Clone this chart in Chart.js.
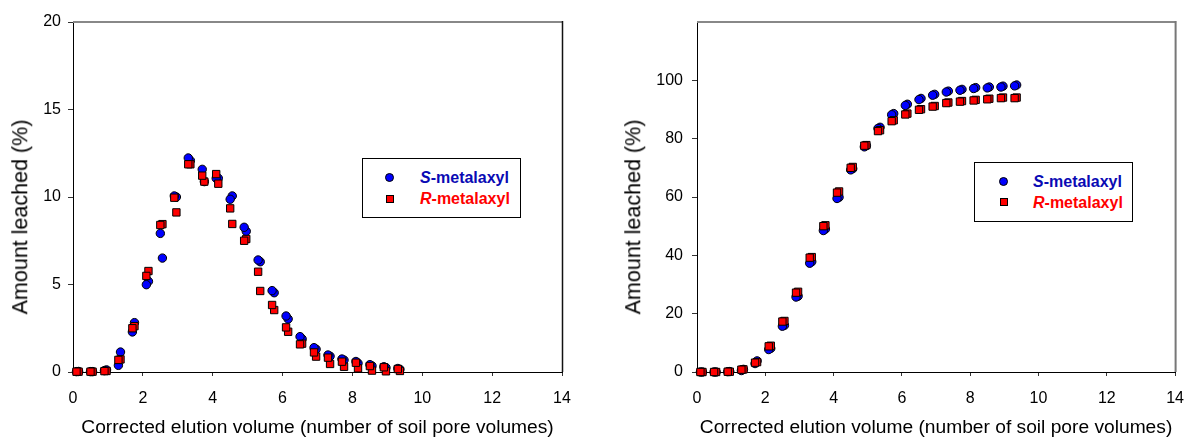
<!DOCTYPE html>
<html>
<head>
<meta charset="utf-8">
<script src="https://cdn.jsdelivr.net/npm/chart.js@4.4.1/dist/chart.umd.min.js"></script>
<style>
  html, body { margin:0; padding:0; background:#fff; }
  body { width:1197px; height:440px; overflow:hidden; position:relative; font-family:"Liberation Sans", Arial, sans-serif; }
  .wrap { position:absolute; top:0; height:440px; }
  .legend { position:absolute; border:1px solid #000; background:#fff; box-sizing:border-box; width:159px; height:60px; }
  .mk { position:absolute; box-sizing:border-box; border:1px solid #000; }
  .circle { width:9px; height:9px; border-radius:50%; background:#0000ff; }
  .square { width:8px; height:8px; background:#ff0000; }
  .txt { position:absolute; font-weight:bold; font-size:16px; line-height:20px; white-space:nowrap; }
  .s { color:#0a0ab4; }
  .r { color:#ff0000; }
  .ytitle { position:absolute; transform:translate(-50%,-50%) rotate(-90deg); font-size:21.5px; line-height:1; white-space:nowrap; color:#000; }
</style>
</head>
<body>
<div class="wrap" style="left:0;width:590px;"><canvas id="c1"></canvas></div>
<div class="wrap" style="left:610px;width:587px;"><canvas id="c2"></canvas></div>

<div class="ytitle" id="yt1" style="left:21px;top:217px;"></div>
<div class="ytitle" id="yt2" style="left:634px;top:217px;"></div>

<div class="legend" style="left:362px;top:158px;">
  <div class="mk circle" style="left:22px;top:14px;"></div>
  <div class="mk square" style="left:23px;top:36px;"></div>
  <div class="txt s" style="left:57px;top:9px;"><i>S</i>-metalaxyl</div>
  <div class="txt r" style="left:57px;top:30px;"><i>R</i>-metalaxyl</div>
</div>
<div class="legend" style="left:974px;top:162px;">
  <div class="mk circle" style="left:24px;top:14px;"></div>
  <div class="mk square" style="left:25px;top:35px;"></div>
  <div class="txt s" style="left:58px;top:9px;"><i>S</i>-metalaxyl</div>
  <div class="txt r" style="left:58px;top:30px;"><i>R</i>-metalaxyl</div>
</div>

<script>
// ---------- data ----------
const xRep1 = [0.1,0.5,0.9,1.3,1.7,2.1,2.5,2.9,3.3,3.7,4.1,4.5,4.9,5.3,5.7,6.1,6.5,6.9,7.3,7.7,8.1,8.5,8.9,9.3];
const xRep2 = [0.16,0.56,0.96,1.36,1.76,2.16,2.56,2.96,3.36,3.76,4.16,4.56,4.96,5.36,5.76,6.16,6.56,6.96,7.36,7.76,8.16,8.56,8.96,9.36];

// Left panel: amount leached per fraction (%)
const sFrac1 = [0.02,0.02,0.08,0.38,2.29,4.99,7.92,10.06,12.23,11.58,11.07,9.87,8.27,6.40,4.65,3.20,2.02,1.39,0.97,0.74,0.60,0.42,0.30,0.20];
const sFrac2 = [0.03,0.02,0.12,1.14,2.82,5.18,6.51,10.00,12.08,10.88,11.07,10.06,8.04,6.30,4.53,3.03,1.89,1.30,0.90,0.68,0.50,0.35,0.25,0.15];
const rFrac1 = [0.02,0.02,0.05,0.69,2.50,5.49,8.40,9.96,11.87,11.22,11.31,9.35,7.50,5.73,3.83,2.55,1.58,1.12,0.82,0.59,0.53,0.34,0.27,0.17];
const rFrac2 = [0.02,0.02,0.06,0.72,2.62,5.77,8.45,9.12,11.87,10.88,10.76,8.46,7.60,4.63,3.54,2.30,1.62,0.88,0.46,0.30,0.21,0.08,0.04,0.06];

// Right panel: cumulative amount leached (%)
const sCum1 = [0,0,0.1,0.5,2.9,7.7,15.7,25.7,37.3,48.5,59.5,69.3,77.2,83.5,88.2,91.4,93.4,94.9,96.0,96.6,97.2,97.4,97.7,98.1];
const sCum2 = [0,0,0.15,0.9,3.8,8.1,16.0,26.0,37.8,49.0,59.9,69.7,77.6,83.9,88.6,91.8,93.8,95.2,96.3,96.9,97.5,97.7,98.0,98.4];
const rCum1 = [0,0,0.1,0.8,3.2,8.8,17.3,27.2,39.2,50.0,61.5,70.0,77.6,82.6,86.0,88.3,89.9,91.0,92.2,92.7,93.1,93.5,93.9,93.9];
const rCum2 = [0,0,0.1,0.9,3.4,9.0,17.5,27.5,39.4,50.3,61.9,70.3,77.8,82.9,86.3,88.6,90.1,91.2,92.4,92.9,93.3,93.7,94.1,94.1];

const xTicks = [0,2,4,6,8,10,12,14];
const yTicksLeft = [0,5,10,15,20];
const yTicksRight = [0,20,40,60,80,100];

const xTitle = 'Corrected elution volume (number of soil pore volumes)';
const yTitle = 'Amount leached (%)';

document.getElementById('yt1').textContent = yTitle;
document.getElementById('yt2').textContent = yTitle;

// ---------- chart ----------
Chart.defaults.font.family = '"Liberation Sans", Arial, sans-serif';
Chart.defaults.color = '#000';

const pts = (xs, ys) => xs.map((x, i) => ({x: x, y: ys[i]}));

const framePlugin = {
  id: 'frame',
  afterDraw(chart, args, opts) {
    const {ctx, chartArea: {left, right, top, bottom}} = chart;
    ctx.save();
    ctx.lineWidth = 2;
    ctx.strokeStyle = '#888';
    ctx.beginPath(); ctx.moveTo(left, top); ctx.lineTo(right + 1, top); ctx.stroke();
    ctx.lineWidth = opts.rightWidth;
    ctx.strokeStyle = opts.rightColor;
    ctx.beginPath(); ctx.moveTo(right + 0.5, top - 1); ctx.lineTo(right + 0.5, bottom); ctx.stroke();
    ctx.restore();
  }
};

function sDs(data) {
  return {data, pointStyle:'circle', pointRadius:4.2, pointHoverRadius:4.2,
          backgroundColor:'#0000ff', borderColor:'#000', borderWidth:1, order:2, clip:false};
}
function rDs(data) {
  return {data, pointStyle:'rect', pointRadius:5.2, pointHoverRadius:5.2,
          backgroundColor:'#ff0000', borderColor:'#000', borderWidth:1, order:1, clip:false};
}

function makeChart(id, sets, yMax, yTicks, yWidth, yTickPad, padRight, rightColor, rightWidth) {
  new Chart(document.getElementById(id), {
    type: 'scatter',
    data: { datasets: [sDs(pts(xRep1, sets[0])), sDs(pts(xRep2, sets[1])), rDs(pts(xRep1, sets[2])), rDs(pts(xRep2, sets[3]))] },
    options: {
      responsive: true, maintainAspectRatio: false, animation: false,
      devicePixelRatio: 1,
      layout: { padding: { top: 22, right: padRight, bottom: 0, left: 0 } },
      plugins: { legend: {display:false}, tooltip: {enabled:false}, frame: {rightColor, rightWidth} },
      events: [],
      scales: {
        x: {
          type: 'linear', min: 0, max: 14,
          afterBuildTicks: s => { s.ticks = xTicks.map(v => ({value: v})); },
          afterFit: s => { s.height = 68; },
          ticks: { font: {size: 16}, color: '#000', padding: 13 },
          grid: { drawOnChartArea: false, drawTicks: true, tickLength: 4, color: '#333', tickWidth: 1 },
          border: { display: true, color: '#000', width: 1 },
          title: { display: true, text: xTitle, font: {size: 19.2}, color: '#000', padding: {top: 0, bottom: 1} }
        },
        y: {
          type: 'linear', min: 0, max: yMax,
          afterBuildTicks: s => { s.ticks = yTicks.map(v => ({value: v})); },
          afterFit: s => { s.width = yWidth; },
          ticks: { font: {size: 16}, color: '#000', padding: yTickPad },
          grid: { drawOnChartArea: false, drawTicks: true, tickLength: 5, color: '#333', tickWidth: 1 },
          border: { display: true, color: '#000', width: 1 },
          title: { display: false }
        }
      }
    },
    plugins: [framePlugin]
  });
}

makeChart('c1', [sFrac1, sFrac2, rFrac1, rFrac2], 20, yTicksLeft, 73, 7, 28, '#111', 1.5);
makeChart('c2', [sCum1, sCum2, rCum1, rCum2], 120, yTicksRight, 87, 9, 12, '#777', 2);
</script>
</body>
</html>
